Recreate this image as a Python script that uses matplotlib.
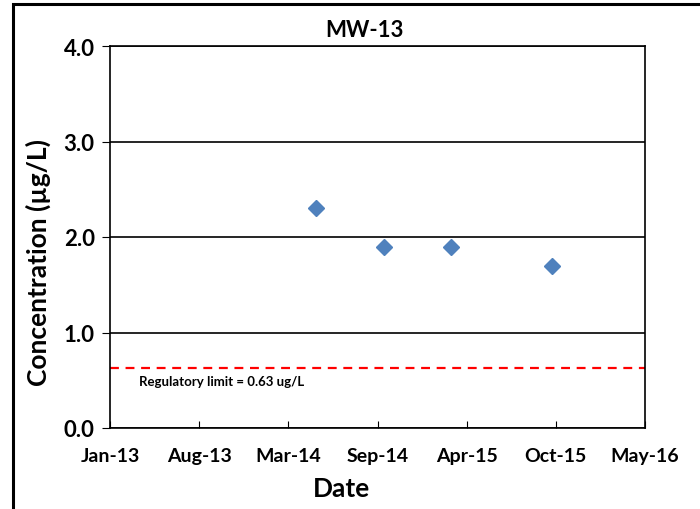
"""
MW-13 concentration chart
"""

import matplotlib
matplotlib.use('Agg')
import matplotlib.pyplot as plt
import matplotlib.dates as mdates
import pandas as pd
from matplotlib.patches import Rectangle

# sample data
sample_dates = ['2014-05-02', '2014-10-03', '2015-03-02', '2015-10-14']
concentrations = [2.3, 1.9, 1.9, 1.7]
regulatory_limit = 0.63
title = 'MW-13'

# axis range (Excel style: 200 day major unit)
x_start, x_end = '2013-01-26', '2016-05-10'
y_ticks = [0.0, 1.0, 2.0, 3.0, 4.0]

plt.rcParams['font.family'] = ['Lato', 'DejaVu Sans']
plt.rcParams['font.weight'] = 'bold'

fig = plt.figure(figsize=(7.0, 5.1), dpi=100)
ax = fig.add_axes([110 / 700, 1 - 429 / 510, 535 / 700, 382 / 510])

dates = pd.to_datetime(sample_dates)
ax.plot(dates, concentrations, linestyle='none', marker='D', markersize=8,
        color='#4f81bd', zorder=3)
ax.axhline(regulatory_limit, color='red', linestyle=(0, (4, 3)), linewidth=1.6, zorder=2)
ax.text(pd.Timestamp('2013-04-01'), 0.49, f'Regulatory limit = {regulatory_limit} ug/L',
        fontsize=9.5, fontweight='bold', va='center', ha='left')

ticks = pd.date_range(x_start, x_end, freq='200D')
ax.set_xlim(pd.Timestamp(x_start), pd.Timestamp(x_end))
ax.set_xticks(ticks)
ax.xaxis.set_major_formatter(mdates.DateFormatter('%b-%y'))
ax.set_ylim(0, 4)
ax.set_yticks(y_ticks)
ax.set_yticklabels([f'{t:.1f}' for t in y_ticks])
ax.yaxis.grid(True, color='black', linewidth=1.2)
ax.set_axisbelow(True)

ax.tick_params(axis='x', direction='in', length=5, labelsize=14, pad=14)
ax.tick_params(axis='y', direction='out', length=6, labelsize=16, pad=5)
for label in ax.get_xticklabels() + ax.get_yticklabels():
    label.set_fontweight('bold')
for spine in ax.spines.values():
    spine.set_linewidth(1.2)

ax.set_title(title, fontsize=16, fontweight='bold', x=0.475, pad=7)
ax.set_xlabel('Date', fontsize=19, fontweight='bold')
ax.set_ylabel('Concentration (µg/L)', fontsize=19, fontweight='bold')
ax.xaxis.set_label_coords(0.432, -0.125)
ax.yaxis.set_label_coords(-0.110, 0.435)

# outer chart frame, cut at the right and bottom
fig.patches.append(Rectangle((13 / 700, -0.05), 1.0, 1 - 5 / 510 + 0.05,
                             transform=fig.transFigure, fill=False,
                             edgecolor='black', linewidth=2.2))

fig.savefig('out.png', dpi=100)
